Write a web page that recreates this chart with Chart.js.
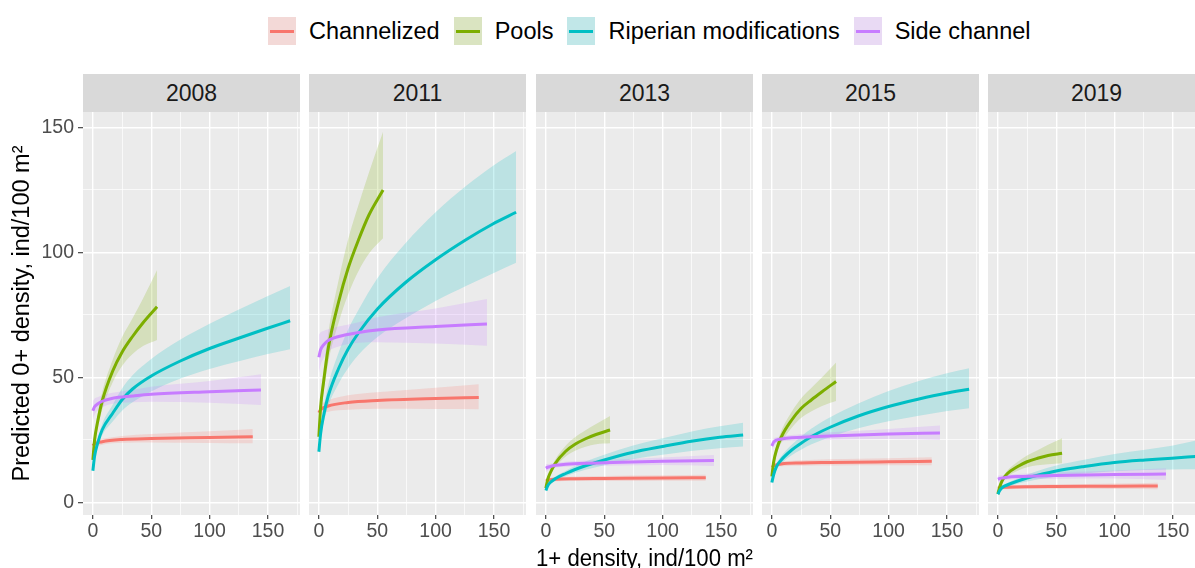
<!DOCTYPE html>
<html>
<head>
<meta charset="utf-8">
<script src="https://cdn.jsdelivr.net/npm/chart.js@4.4.0/dist/chart.umd.min.js"></script>
<style>
  html, body { margin: 0; padding: 0; background: #fff; overflow: hidden; }
  body { position: relative; width: 1195px; height: 568px; font-family: "Liberation Sans", Arial, sans-serif; }
  .strip { position: absolute; top: 74px; height: 38px; background: #D9D9D9; color: #1A1A1A;
           font-size: 23px; line-height: 38px; text-align: center; }
  canvas { position: absolute; top: 112px; }
  #legend { position: absolute; left: 268px; top: 17px; height: 28px; display: flex; align-items: center;
            font-size: 23.5px; color: #000; white-space: nowrap; }
  .item { display: flex; align-items: center; margin-right: 14px; }
  .key { position: relative; width: 28px; height: 28px; background: #F2F2F2; margin-right: 13px; }
  .key .fill { position: absolute; left: 0; top: 0; right: 0; bottom: 0; }
  .key .ln { position: absolute; left: 2px; right: 2px; top: 12.5px; height: 3px; }
</style>
</head>
<body>
<div id="legend"></div>
<script>
// facets and groups
const years = ["2008", "2011", "2013", "2015", "2019"];
const habitats = ["Channelized", "Pools", "Riperian modifications", "Side channel"];
const colours = ["#F8766D", "#7CAE00", "#00BFC4", "#C77CFF"];

// 1+ density where each fitted curve is read (per habitat)
const xChannelized = [0, 1.5, 8, 25, 50, 100, 137];
const xPools = [0, 1.5, 4, 8, 17, 25, 34, 43, 55];
const xRiperian = [0, 1.5, 4, 8, 17, 25, 34, 50, 74, 100, 126, 149, 169];
const xSide = [0, 1.5, 4, 8, 17, 34, 50, 100, 144];

// predicted 0+ density, one row per year
const channelizedFit = [
  [22.6, 23.3, 24.2, 25.1, 25.5, 25.9, 26.2],
  [35.8, 37.0, 38.5, 39.9, 40.7, 41.5, 41.9],
  [8.5, 8.8, 9.2, 9.4, 9.5, 9.7, 9.8],
  [14.0, 14.6, 15.3, 15.7, 15.9, 16.2, 16.4],
  [5.6, 5.8, 6.0, 6.2, 6.3, 6.4, 6.5]
];
const channelizedHigh = [
  [24.3, 24.8, 25.4, 26.5, 27.3, 28.4, 29.3],
  [38.5, 39.2, 40.8, 42.8, 44.0, 45.8, 47.2],
  [9.5, 9.7, 10.0, 10.3, 10.5, 10.8, 11.0],
  [15.1, 15.5, 16.2, 16.8, 17.2, 17.6, 18.0],
  [6.5, 6.6, 6.8, 7.0, 7.2, 7.5, 7.8]
];
const channelizedLow = [
  [20.9, 21.8, 23.0, 23.8, 23.9, 23.7, 23.6],
  [33.0, 34.8, 36.2, 37.0, 37.4, 37.3, 37.2],
  [7.5, 7.9, 8.4, 8.5, 8.5, 8.6, 8.6],
  [12.9, 13.7, 14.4, 14.6, 14.7, 14.8, 14.8],
  [4.7, 5.0, 5.2, 5.4, 5.4, 5.3, 5.2]
];

const poolsFit = [
  [16.9, 25.0, 32.0, 40.5, 52.5, 60.0, 66.3, 71.8, 78.2],
  [26.2, 38.0, 48.0, 61.5, 80.3, 93.5, 105.0, 115.0, 124.9],
  [5.6, 9.0, 12.0, 15.5, 20.4, 23.2, 25.4, 27.1, 28.9],
  [10.3, 16.0, 21.0, 26.0, 32.9, 37.5, 41.0, 44.2, 48.3],
  [3.3, 6.0, 8.9, 11.4, 14.3, 16.2, 17.6, 18.7, 19.6]
];
const poolsHigh = [
  [18.3, 27.0, 34.8, 44.0, 57.0, 66.0, 73.6, 81.5, 92.9],
  [28.5, 41.0, 52.5, 67.5, 89.0, 105.0, 119.0, 132.0, 148.2],
  [6.2, 9.8, 13.1, 17.0, 22.6, 26.0, 28.8, 31.3, 34.5],
  [11.2, 17.3, 22.8, 28.4, 36.2, 41.5, 45.8, 50.0, 55.9],
  [3.7, 6.6, 9.8, 12.6, 16.2, 18.7, 20.8, 23.0, 25.6]
];
const poolsLow = [
  [15.5, 23.0, 29.3, 37.0, 48.0, 54.5, 59.3, 62.5, 64.9],
  [24.0, 35.0, 43.7, 55.8, 72.0, 83.0, 92.5, 99.5, 105.6],
  [5.0, 8.2, 10.9, 14.0, 18.3, 20.6, 22.2, 23.2, 23.6],
  [9.4, 14.7, 19.2, 23.7, 29.8, 33.7, 36.4, 38.5, 40.5],
  [2.9, 5.4, 8.0, 10.2, 12.6, 14.0, 14.8, 15.2, 15.6]
];

const riperianFit = [
  [12.6, 18.5, 23.5, 29.0, 35.6, 41.0, 45.3, 50.5, 56.3, 61.5, 65.8, 69.5, 72.6],
  [20.2, 27.5, 34.5, 42.5, 53.6, 61.2, 67.8, 77.2, 87.8, 97.0, 105.0, 111.3, 116.0],
  [4.7, 6.5, 8.0, 9.4, 11.5, 13.1, 14.6, 16.9, 19.9, 22.3, 24.5, 26.0, 26.9],
  [7.9, 11.0, 14.3, 16.9, 20.9, 23.6, 26.3, 30.0, 34.5, 38.3, 41.3, 43.6, 45.2],
  [3.2, 4.6, 6.0, 6.9, 8.5, 9.7, 10.8, 12.5, 14.3, 15.9, 16.9, 17.6, 18.3]
];
const riperianHigh = [
  [13.3, 19.6, 25.0, 31.3, 39.0, 45.5, 50.8, 57.3, 64.8, 71.4, 77.3, 82.3, 86.5],
  [21.5, 29.5, 37.5, 46.8, 60.0, 69.0, 77.0, 89.5, 103.5, 116.0, 126.5, 134.5, 140.5],
  [5.0, 6.9, 8.6, 10.2, 12.6, 14.5, 16.3, 19.0, 22.6, 25.6, 28.4, 30.4, 31.8],
  [8.4, 11.8, 15.4, 18.4, 23.0, 26.3, 29.5, 34.0, 39.5, 44.5, 48.5, 51.5, 53.6],
  [3.5, 5.0, 6.6, 7.7, 9.6, 11.1, 12.5, 14.7, 17.0, 19.3, 21.0, 22.6, 24.6]
];
const riperianLow = [
  [11.9, 17.4, 22.0, 26.8, 32.3, 36.6, 40.0, 44.3, 49.3, 53.3, 56.5, 59.2, 61.2],
  [18.9, 25.5, 31.6, 38.4, 47.5, 53.6, 59.0, 66.0, 73.5, 80.5, 86.5, 91.5, 95.8],
  [4.4, 6.1, 7.4, 8.6, 10.4, 11.8, 13.0, 14.8, 17.2, 19.0, 20.6, 21.6, 22.3],
  [7.4, 10.2, 13.2, 15.4, 18.8, 21.0, 23.2, 26.1, 29.6, 32.4, 34.6, 36.4, 37.6],
  [2.9, 4.2, 5.4, 6.1, 7.4, 8.3, 9.1, 10.3, 11.5, 12.4, 12.9, 13.1, 13.2]
];

const sideFit = [
  [36.6, 38.2, 39.3, 40.4, 41.6, 42.5, 43.2, 44.2, 44.9],
  [58.0, 61.0, 62.9, 64.7, 66.3, 67.9, 68.9, 70.3, 71.3],
  [13.6, 14.0, 14.3, 14.8, 15.2, 15.6, 15.8, 16.4, 16.7],
  [22.5, 24.0, 24.9, 25.3, 25.8, 26.2, 26.5, 27.3, 27.7],
  [9.2, 9.5, 9.7, 10.0, 10.3, 10.5, 10.7, 11.1, 11.3]
];
const sideHigh = [
  [40.5, 41.5, 42.0, 42.8, 43.8, 45.0, 46.2, 48.5, 51.2],
  [67.0, 68.0, 68.5, 69.2, 70.3, 72.0, 74.0, 77.5, 81.3],
  [15.2, 15.3, 15.4, 15.8, 16.2, 16.7, 17.0, 17.9, 18.9],
  [24.5, 25.5, 26.0, 26.4, 26.9, 27.5, 28.0, 29.3, 30.7],
  [10.6, 10.7, 10.8, 11.0, 11.3, 11.7, 12.0, 12.7, 13.6]
];
const sideLow = [
  [33.0, 35.0, 36.7, 38.0, 39.4, 40.0, 40.2, 39.8, 38.9],
  [51.5, 55.0, 57.5, 60.3, 62.3, 63.8, 64.0, 63.5, 62.6],
  [12.0, 12.6, 13.2, 13.8, 14.2, 14.5, 14.6, 14.9, 14.5],
  [20.5, 22.5, 23.8, 24.3, 24.7, 24.9, 25.0, 25.3, 24.9],
  [7.8, 8.3, 8.6, 9.0, 9.3, 9.3, 9.4, 9.5, 9.0]
];

// layout of the facet panels
const panelLeft = [83, 309, 536, 762, 988];
const panelWidth = 217;

const seriesX = [xChannelized, xPools, xRiperian, xSide];
const seriesFit = [channelizedFit, poolsFit, riperianFit, sideFit];
const seriesHigh = [channelizedHigh, poolsHigh, riperianHigh, sideHigh];
const seriesLow = [channelizedLow, poolsLow, riperianLow, sideLow];

function rgba(hex, a) {
  const n = parseInt(hex.slice(1), 16);
  return `rgba(${(n >> 16) & 255},${(n >> 8) & 255},${n & 255},${a})`;
}
function pts(xs, ys) {
  return xs.map((x, i) => ({ x: x, y: ys[i] }));
}

// legend
var legend = document.getElementById("legend");
habitats.forEach((h, j) => {
  legend.insertAdjacentHTML("beforeend",
    `<div class="item"><div class="key"><div class="fill" style="background:${rgba(colours[j], 0.2)}"></div>` +
    `<div class="ln" style="background:${colours[j]}"></div></div><span>${h}</span></div>`);
});

var panelBg = {
  id: "panelBg",
  beforeDraw: (chart) => {
    const a = chart.chartArea, ctx = chart.ctx;
    ctx.save();
    ctx.fillStyle = "#EBEBEB";
    ctx.fillRect(a.left, a.top, a.right - a.left, a.bottom - a.top);
    ctx.restore();
  },
};

var major = (v) => v % 50 === 0;
// no extra room for edge labels: the panel must fill its box
var noPad = (s) => { s.paddingTop = 0; s.paddingBottom = 0; s.paddingLeft = 0; s.paddingRight = 0; };

years.forEach((yr, k) => {
  const strip = document.createElement("div");
  strip.className = "strip";
  strip.style.left = panelLeft[k] + "px";
  strip.style.width = panelWidth + "px";
  strip.textContent = yr;
  document.body.appendChild(strip);

  const yAxisW = k === 0 ? panelLeft[0] : 0;
  const cv = document.createElement("canvas");
  cv.width = panelWidth + yAxisW;
  cv.height = 470;
  cv.style.left = (panelLeft[k] - yAxisW) + "px";
  cv.style.width = cv.width + "px";
  cv.style.height = cv.height + "px";
  document.body.appendChild(cv);

  var datasets = [];
  // ribbons first (drawn underneath)
  for (let j = 0; j < 4; j++) {
    datasets.push({
      data: pts(seriesX[j], seriesLow[j][k]),
      borderWidth: 0, pointRadius: 0, fill: false,
      cubicInterpolationMode: "monotone", order: 10 - j,
    });
    datasets.push({
      data: pts(seriesX[j], seriesHigh[j][k]),
      borderWidth: 0, pointRadius: 0, fill: "-1",
      backgroundColor: rgba(colours[j], 0.2),
      cubicInterpolationMode: "monotone", order: 10 - j,
    });
  }
  for (let j = 0; j < 4; j++) {
    datasets.push({
      label: habitats[j],
      data: pts(seriesX[j], seriesFit[j][k]),
      borderColor: colours[j], borderWidth: 3, pointRadius: 0, fill: false,
      cubicInterpolationMode: "monotone", order: 4 - j,
    });
  }

  new Chart(cv.getContext("2d"), {
    type: "line",
    data: { datasets: datasets },
    plugins: [panelBg],
    options: {
      responsive: false,
      animation: false,
      devicePixelRatio: 1,
      events: [],
      layout: { padding: 0 },
      plugins: { legend: { display: false }, tooltip: { enabled: false } },
      scales: {
        x: {
          type: "linear", min: -8.45, max: 177.45,
          afterFit: (s) => { s.height = 67; noPad(s); },
          border: { display: false },
          grid: {
            color: "#FFFFFF",
            lineWidth: (c) => (c.tick && major(c.tick.value) ? 1.4 : 0.7),
            tickLength: 4,
            tickWidth: 1.1,
            tickColor: (c) => (c.tick && major(c.tick.value) ? "#333333" : "rgba(0,0,0,0)"),
          },
          ticks: {
            stepSize: 25, includeBounds: false, autoSkip: false, maxRotation: 0,
            padding: 3, color: "#4D4D4D",
            font: { family: "Liberation Sans", size: 19.5, lineHeight: 1 },
            callback: (v) => (major(v) ? v : ""),
          },
          title: {
            display: k === 2,
            text: "1+ density, ind/100 m²",
            color: "#000000",
            font: { family: "Liberation Sans", size: 23.5, lineHeight: 1.2 },
            padding: { top: 0, bottom: 8.5 },
          },
        },
        y: {
          type: "linear", min: -5.1, max: 156.1,
          afterFit: (s) => { s.width = yAxisW; noPad(s); },
          border: { display: false },
          grid: {
            color: "#FFFFFF",
            lineWidth: (c) => (c.tick && major(c.tick.value) ? 1.4 : 0.7),
            drawTicks: k === 0,
            tickLength: 5,
            tickWidth: 1.1,
            tickColor: (c) => (c.tick && major(c.tick.value) ? "#333333" : "rgba(0,0,0,0)"),
          },
          ticks: {
            display: k === 0,
            stepSize: 25, includeBounds: false, autoSkip: false,
            padding: 4, color: "#4D4D4D",
            font: { family: "Liberation Sans", size: 19.5 },
            callback: (v) => (major(v) ? v : ""),
          },
          title: {
            display: k === 0,
            text: "Predicted 0+ density, ind/100 m²",
            color: "#000000",
            font: { family: "Liberation Sans", size: 23.5, lineHeight: 1.2 },
            padding: { top: 8, bottom: 0 },
          },
        },
      },
    },
  });
});
</script>
</body>
</html>
